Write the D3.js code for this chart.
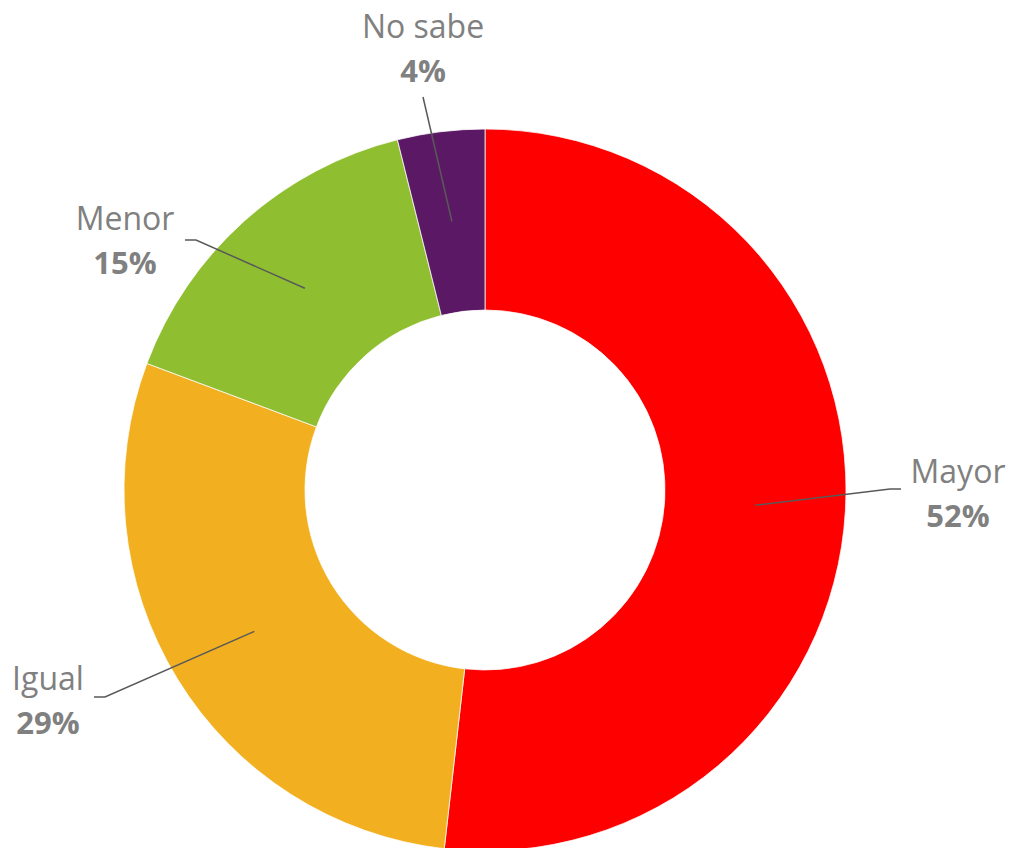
<!DOCTYPE html>
<html>
<head>
<meta charset="utf-8">
<script src="https://cdn.jsdelivr.net/npm/d3@7"></script>
<style>
  html, body { margin: 0; padding: 0; background: #ffffff; }
  #chart { width: 1014px; height: 848px; }
</style>
</head>
<body>
<div id="chart"></div>
<script>
const categories = ['Mayor', 'Igual', 'Menor', 'No sabe']
const values = [51.8, 28.9, 15.4, 3.9]
const colors = ['#FF0000', '#F2B021', '#8FBF31', '#5B1864']

// elbow of each leader line, relative to the centre
const labelAnchors = [[405, -1], [-380, 207], [-289, -250], [-62, -393]]

const config = {
  width: 1014,
  height: 848,
  cx: 485,
  cy: 490,
  outer: 361,
  inner: 180,
  text: '#808080',
  line: '#595959',
  font: '"Open Sans", "Noto Sans", sans-serif'
}

const data = categories.map((c, i) => ({ name: c, value: values[i], color: colors[i], anchor: labelAnchors[i] }))

const svg = d3.select('#chart')
  .append('svg')
  .attr('width', config.width)
  .attr('height', config.height)

const g = svg.append('g').attr('transform', `translate(${config.cx},${config.cy})`)

const pie = d3.pie().sort(null).value((d) => d.value)
const arc = d3.arc().innerRadius(config.inner).outerRadius(config.outer)
const arcs = pie(data)

g.selectAll('path.slice')
  .data(arcs)
  .enter()
  .append('path')
  .attr('class', 'slice')
  .attr('d', arc)
  .attr('fill', (d) => d.data.color)
  .attr('stroke', '#ffffff')
  .attr('stroke-width', 0.75)

// leader lines
arcs.forEach((d) => {
  const [sx, sy] = arc.centroid(d)
  const [ex, ey] = d.data.anchor
  const side = ex > 0 ? 1 : -1
  const pts = d.data.name === 'No sabe'
    ? [[sx, sy], [ex, ey]]
    : [[sx, sy], [ex, ey], [ex + side * 11, ey]]
  g.append('path')
    .attr('d', d3.line()(pts))
    .attr('fill', 'none')
    .attr('stroke', config.line)
    .attr('stroke-width', 1.5)
})

// labels
arcs.forEach((d) => {
  const [ex, ey] = d.data.anchor
  let tx, ty
  if (d.data.name === 'No sabe') {
    tx = ex; ty = ey - 59
  } else if (ex > 0) {
    tx = ex + 68; ty = ey - 6
  } else if (d.data.name === 'Igual') {
    tx = ex - 57; ty = ey - 7
  } else {
    tx = ex - 71; ty = ey - 10
  }
  const label = g.append('text')
    .attr('x', tx)
    .attr('y', ty)
    .attr('text-anchor', 'middle')
    .style('font-family', config.font)
    .style('fill', config.text)
  label.append('tspan')
    .attr('x', tx)
    .style('font-size', '32px')
    .text(d.data.name)
  label.append('tspan')
    .attr('x', tx)
    .attr('dy', 44)
    .style('font-size', '31px')
    .style('font-weight', 'bold')
    .text(`${Math.round(d.data.value)}%`)
})
</script>
</body>
</html>
